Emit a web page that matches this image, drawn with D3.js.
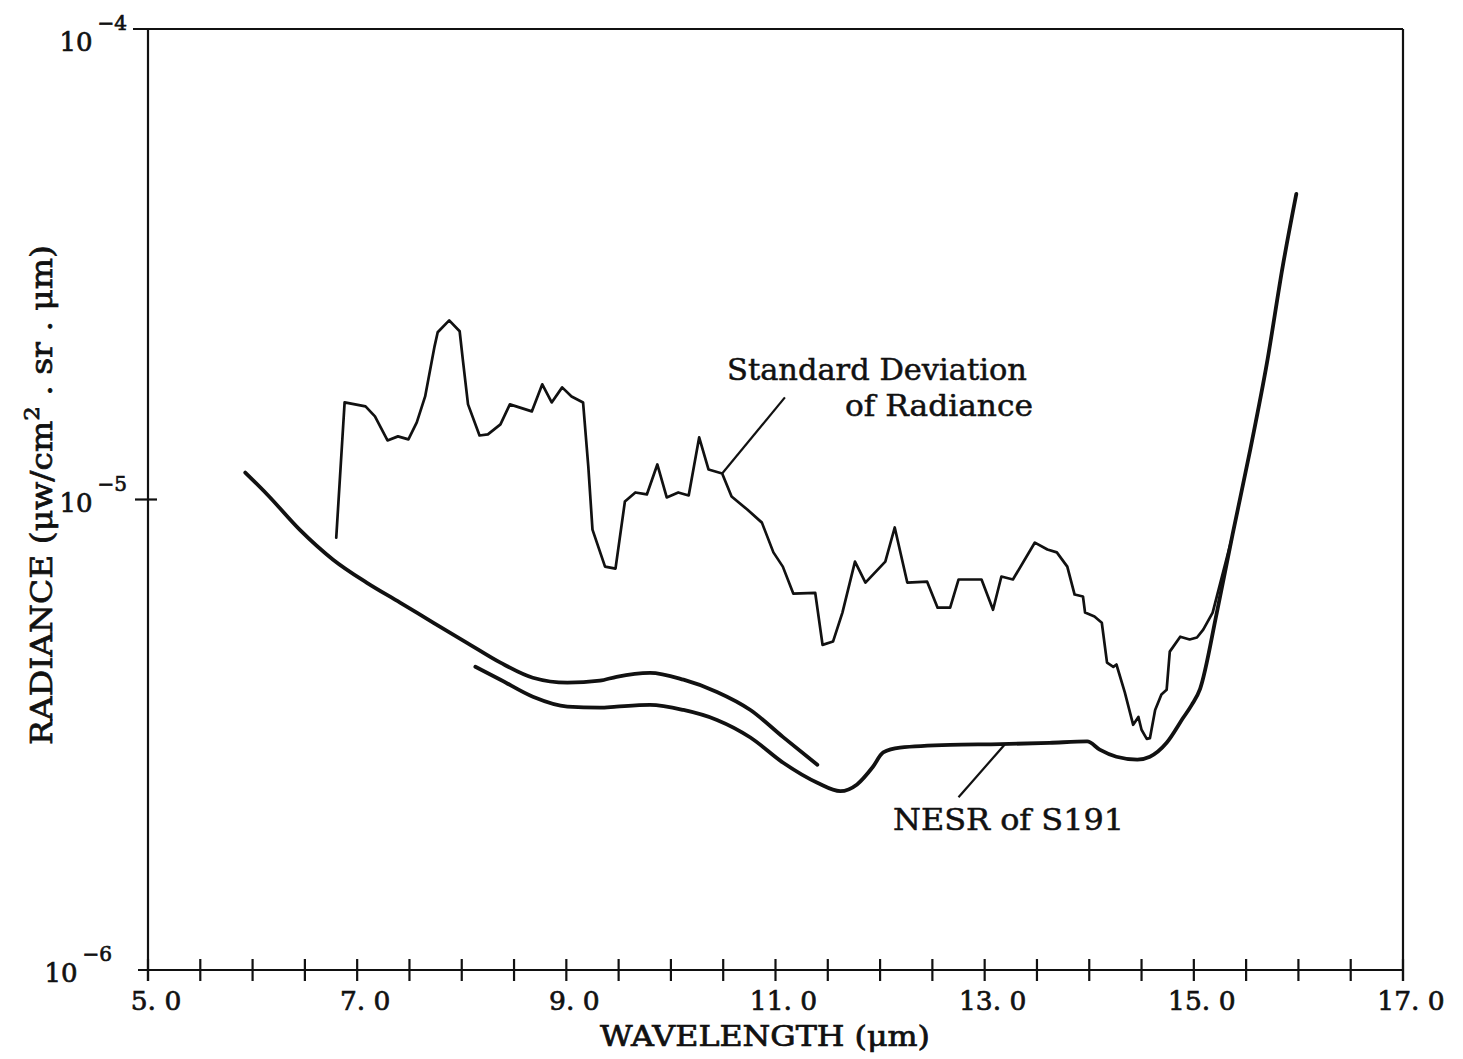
<!DOCTYPE html>
<html><head><meta charset="utf-8">
<script src="https://cdn.jsdelivr.net/npm/d3@7"></script>
<style>body{margin:0;background:#fff}svg{display:block}</style>
</head><body>
<svg id="c" width="1463" height="1059"></svg>
<script>
// ---------- data ----------
const xTickValues = [5.0,5.5,6.0,6.5,7.0,7.5,8.0,8.5,9.0,9.5,10.0,10.5,11.0,11.5,12.0,12.5,13.0,13.5,14.0,14.5,15.0,15.5,16.0,16.5,17.0];
const xLabelValues = [5,7,9,11,13,15,17];
const xTickLabels = ["5. 0","7. 0","9. 0","11. 0","13. 0","15. 0","17. 0"];
const yTickValues = [1e-4,1e-5,1e-6];
const yTickBase = ["10","10","10"];
const yTickExponents = ["\u22124","\u22125","\u22126"];

const stdWavelength = [6.80,6.88,7.08,7.17,7.29,7.39,7.49,7.57,7.65,7.74,7.77,7.88,7.98,8.01,8.06,8.17,8.25,8.37,8.46,8.67,8.77,8.86,8.96,9.05,9.16,9.21,9.25,9.37,9.47,9.56,9.66,9.77,9.87,9.96,10.07,10.17,10.27,10.36,10.49,10.58,10.73,10.87,10.98,11.07,11.17,11.38,11.45,11.55,11.64,11.76,11.86,12.05,12.14,12.26,12.45,12.55,12.67,12.75,12.97,13.08,13.16,13.27,13.48,13.60,13.69,13.79,13.86,13.94,13.96,14.05,14.12,14.17,14.23,14.26,14.34,14.42,14.47,14.50,14.55,14.58,14.63,14.69,14.74,14.77,14.87,14.96,15.03,15.09,15.18,15.36];
const stdRadiance = [8.30e-6,1.608e-5,1.577e-5,1.502e-5,1.335e-5,1.362e-5,1.342e-5,1.458e-5,1.656e-5,2.116e-5,2.267e-5,2.403e-5,2.278e-5,1.986e-5,1.593e-5,1.368e-5,1.375e-5,1.444e-5,1.593e-5,1.539e-5,1.757e-5,1.608e-5,1.731e-5,1.656e-5,1.608e-5,1.176e-5,8.63e-6,7.20e-6,7.13e-6,9.90e-6,1.035e-5,1.025e-5,1.187e-5,1.010e-5,1.035e-5,1.020e-5,1.355e-5,1.158e-5,1.136e-5,1.015e-5,9.52e-6,8.93e-6,7.72e-6,7.20e-6,6.31e-6,6.33e-6,4.91e-6,4.99e-6,5.75e-6,7.38e-6,6.66e-6,7.38e-6,8.72e-6,6.66e-6,6.69e-6,5.89e-6,5.89e-6,6.76e-6,6.76e-6,5.83e-6,6.86e-6,6.76e-6,8.10e-6,7.83e-6,7.72e-6,7.20e-6,6.28e-6,6.22e-6,5.75e-6,5.64e-6,5.47e-6,4.50e-6,4.41e-6,4.46e-6,3.89e-6,3.32e-6,3.45e-6,3.24e-6,3.10e-6,3.11e-6,3.57e-6,3.85e-6,3.94e-6,4.75e-6,5.11e-6,5.04e-6,5.09e-6,5.29e-6,5.75e-6,8.22e-6];

const nesrAWavelength = [5.93,6.14,6.45,6.77,7.09,7.41,7.73,8.05,8.37,8.68,9.01,9.32,9.48,9.80,10.12,10.44,10.76,11.07,11.40];
const nesrARadiance = [1.141e-5,1.025e-5,8.63e-6,7.45e-6,6.66e-6,6.04e-6,5.47e-6,4.96e-6,4.50e-6,4.18e-6,4.08e-6,4.12e-6,4.20e-6,4.28e-6,4.14e-6,3.90e-6,3.57e-6,3.13e-6,2.73e-6];

const nesrBWavelength = [8.13,8.37,8.68,9.01,9.32,9.48,9.80,10.12,10.44,10.76,11.07,11.40,11.62,11.78,11.93,12.03,12.19,12.67,13.15,13.62,13.98,14.10,14.26,14.46,14.58,14.74,14.90,14.98,15.06,15.22,15.37,15.54,15.70,15.85,15.98];
const nesrBRadiance = [4.41e-6,4.14e-6,3.81e-6,3.63e-6,3.61e-6,3.63e-6,3.66e-6,3.57e-6,3.40e-6,3.12e-6,2.76e-6,2.50e-6,2.40e-6,2.48e-6,2.70e-6,2.90e-6,2.97e-6,3.01e-6,3.02e-6,3.04e-6,3.06e-6,2.94e-6,2.84e-6,2.80e-6,2.84e-6,3.04e-6,3.44e-6,3.66e-6,3.96e-6,5.75e-6,8.42e-6,1.278e-5,1.956e-5,3.13e-5,4.46e-5];

// annotation leader lines in data units [x1,y1,x2,y2]
const stdLeader = [10.49,1.136e-5,11.09,1.648e-5];
const nesrLeader = [13.19,3.01e-6,12.75,2.33e-6];

// ---------- drawing ----------
const FONT = "'DejaVu Serif', 'Liberation Serif', serif";
const svg = d3.select("#c");
const x = d3.scaleLinear().domain([5,17]).range([148,1403]);
const y = d3.scaleLog().domain([1e-6,1e-4]).range([970,29]);

const ink = "#111";
const textStroke = 0.7;
// frame
const g = svg.append("g").attr("stroke", ink).attr("stroke-width", 2.2).attr("fill","none");
g.append("line").attr("x1", x(5)-15).attr("x2", x(17)).attr("y1", y(1e-4)).attr("y2", y(1e-4));
g.append("line").attr("x1", x(5)-10).attr("x2", x(17)).attr("y1", y(1e-6)).attr("y2", y(1e-6));
g.append("line").attr("x1", x(5)).attr("x2", x(5)).attr("y1", y(1e-4)).attr("y2", y(1e-6)+11);
g.append("line").attr("x1", x(17)).attr("x2", x(17)).attr("y1", y(1e-4)).attr("y2", y(1e-6)+11);

// x ticks
g.selectAll(".xt").data(xTickValues).join("line")
  .attr("x1", d => x(d)).attr("x2", d => x(d))
  .attr("y1", y(1e-6)-11).attr("y2", y(1e-6)+11);
// y tick at 1e-5
g.append("line").attr("x1", x(5)-13).attr("x2", x(5)+9).attr("y1", y(1e-5)).attr("y2", y(1e-5));

// x tick labels
svg.append("g").selectAll("text").data(xLabelValues).join("text")
  .attr("x", d => x(d) + 8).attr("y", 1010)
  .attr("text-anchor","middle")
  .attr("font-family", FONT).attr("font-size", 26.5).attr("fill", ink)
  .attr("stroke", ink).attr("stroke-width", textStroke)
  .text((d,i) => xTickLabels[i]);

// y tick labels
const yl = svg.append("g").selectAll("text").data(yTickValues).join("text")
  .attr("x", (d,i) => i === 2 ? 112 : 127)
  .attr("y", (d,i) => y(d) + (i === 0 ? 22 : 12))
  .attr("text-anchor","end")
  .attr("font-family", FONT).attr("font-size", 26).attr("fill", ink)
  .attr("stroke", ink).attr("stroke-width", textStroke);
yl.append("tspan").text((d,i) => yTickBase[i]);
yl.append("tspan").attr("dx", 5).attr("dy", -21).attr("font-size", 20).text((d,i) => yTickExponents[i]);

// axis titles
svg.append("text").attr("x", 765).attr("y", 1046).attr("text-anchor","middle")
  .attr("font-family", FONT).attr("font-size", 27).attr("fill", ink)
  .attr("stroke", ink).attr("stroke-width", textStroke)
  .attr("textLength", 330).attr("lengthAdjust","spacingAndGlyphs")
  .text("WAVELENGTH (\u03bcm)");

const yt = svg.append("text").attr("transform","translate(52,495) rotate(-90)")
  .attr("text-anchor","middle")
  .attr("font-family", FONT).attr("font-size", 29).attr("fill", ink)
  .attr("stroke", ink).attr("stroke-width", textStroke)
  .attr("textLength", 500).attr("lengthAdjust","spacingAndGlyphs");
yt.append("tspan").text("RADIANCE (\u03bcw/cm");
yt.append("tspan").attr("dy", -13).attr("font-size", 20).text("2");
yt.append("tspan").attr("dy", 13).text(" . sr . \u03bcm)");

// curves
const lineLin = d3.line().x(d => x(d[0])).y(d => y(d[1]));
const lineSmooth = d3.line().x(d => x(d[0])).y(d => y(d[1])).curve(d3.curveMonotoneX);

const std = stdWavelength.map((w,i) => [w, stdRadiance[i]]);
const nA = nesrAWavelength.map((w,i) => [w, nesrARadiance[i]]);
const nB = nesrBWavelength.map((w,i) => [w, nesrBRadiance[i]]);

svg.append("path").attr("d", lineSmooth(nA)).attr("fill","none").attr("stroke", ink)
  .attr("stroke-width", 3.8).attr("stroke-linecap","round").attr("stroke-linejoin","round");
svg.append("path").attr("d", lineSmooth(nB)).attr("fill","none").attr("stroke", ink)
  .attr("stroke-width", 3.8).attr("stroke-linecap","round").attr("stroke-linejoin","round");
svg.append("path").attr("d", lineLin(std)).attr("fill","none").attr("stroke", ink)
  .attr("stroke-width", 2.7).attr("stroke-linecap","round").attr("stroke-linejoin","round");

// annotations
[stdLeader, nesrLeader].forEach(l => {
  svg.append("line").attr("x1", x(l[0])).attr("y1", y(l[1])).attr("x2", x(l[2])).attr("y2", y(l[3]))
    .attr("stroke", ink).attr("stroke-width", 2.2);
});
const ann = (t, xs, ys, len) => svg.append("text").attr("x", xs).attr("y", ys)
  .attr("font-family", FONT).attr("font-size", 29).attr("fill", ink)
  .attr("stroke", ink).attr("stroke-width", 0.5)
  .attr("textLength", len).attr("lengthAdjust","spacingAndGlyphs").text(t);
ann("Standard Deviation", 727, 380, 300);
ann("of Radiance", 845, 416, 188);
ann("NESR of S191", 893, 830, 231);
</script>
</body></html>
